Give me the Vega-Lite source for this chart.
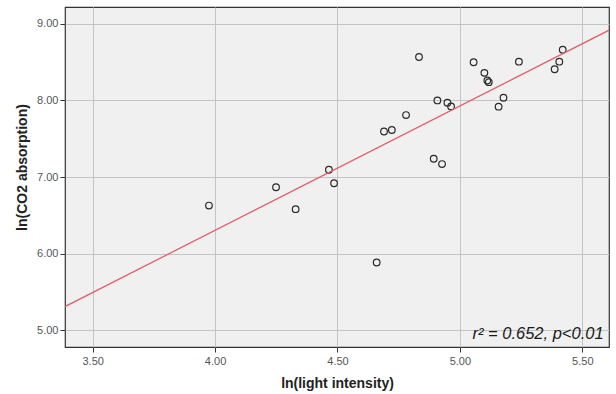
{
  "$schema": "https://vega.github.io/schema/vega-lite/v6.json",
  "width": 544,
  "height": 340,
  "autosize": {"type": "none"},
  "padding": {"left": 65, "top": 7, "right": 7, "bottom": 47},
  "background": "#ffffff",
  "config": {
    "view": {"fill": "#f0f0f0", "stroke": "#333333", "strokeWidth": 1.2},
    "font": "Liberation Sans"
  },
  "datasets": {
    "pts": [
      {"x": 3.975, "y": 6.627}, {"x": 4.249, "y": 6.866}, {"x": 4.329, "y": 6.580},
      {"x": 4.465, "y": 7.095}, {"x": 4.486, "y": 6.918}, {"x": 4.660, "y": 5.883},
      {"x": 4.690, "y": 7.594}, {"x": 4.722, "y": 7.614}, {"x": 4.780, "y": 7.809},
      {"x": 4.833, "y": 8.567}, {"x": 4.893, "y": 7.238}, {"x": 4.908, "y": 8.000},
      {"x": 4.927, "y": 7.169}, {"x": 4.949, "y": 7.970}, {"x": 4.964, "y": 7.922},
      {"x": 5.056, "y": 8.498}, {"x": 5.100, "y": 8.360}, {"x": 5.112, "y": 8.260},
      {"x": 5.118, "y": 8.238}, {"x": 5.158, "y": 7.918}, {"x": 5.178, "y": 8.035},
      {"x": 5.241, "y": 8.506}, {"x": 5.387, "y": 8.407}, {"x": 5.406, "y": 8.506},
      {"x": 5.420, "y": 8.662}
    ],
    "fit": [{"x": 3.387, "y": 5.308}, {"x": 5.609, "y": 8.917}],
    "note": [{"x": 5.587, "y": 4.885, "label": "r² = 0.652, p<0.01"}]
  },
  "layer": [
    {
      "data": {"name": "pts"},
      "mark": {"type": "point", "shape": "circle", "filled": false, "stroke": "#2a2a2a", "strokeWidth": 1.2, "size": 44, "opacity": 1},
      "encoding": {
        "x": {
          "field": "x", "type": "quantitative",
          "scale": {"domain": [3.387, 5.609], "nice": false, "zero": false},
          "axis": {
            "title": "ln(light intensity)", "values": [3.5, 4.0, 4.5, 5.0, 5.5], "format": ".2f",
            "grid": true, "gridColor": "#c4c4c4", "gridWidth": 1, "gridOpacity": 1,
            "domain": false, "ticks": true, "tickColor": "#333333", "tickSize": 5,
            "labelFont": "Liberation Sans", "labelFontSize": 11, "labelColor": "#555555", "labelPadding": 3,
            "titleFont": "Liberation Sans", "titleFontSize": 14, "titleFontWeight": "bold", "titleColor": "#222222", "titlePadding": 10
          }
        },
        "y": {
          "field": "y", "type": "quantitative",
          "scale": {"domain": [4.78, 9.22], "nice": false, "zero": false},
          "axis": {
            "title": "ln(CO2 absorption)", "values": [5, 6, 7, 8, 9], "format": ".2f",
            "grid": true, "gridColor": "#c4c4c4", "gridWidth": 1, "gridOpacity": 1,
            "domain": false, "ticks": true, "tickColor": "#333333", "tickSize": 5,
            "labelFont": "Liberation Sans", "labelFontSize": 11, "labelColor": "#555555", "labelPadding": 2,
            "titleFont": "Liberation Sans", "titleFontSize": 14, "titleFontWeight": "bold", "titleColor": "#222222", "titlePadding": 7,
            "titleY": 160
          }
        }
      }
    },
    {
      "data": {"name": "fit"},
      "mark": {"type": "line", "color": "#e06070", "strokeWidth": 1.3, "clip": true},
      "encoding": {
        "x": {"field": "x", "type": "quantitative"},
        "y": {"field": "y", "type": "quantitative"}
      }
    },
    {
      "data": {"name": "note"},
      "mark": {"type": "text", "align": "right", "baseline": "alphabetic", "font": "Liberation Sans", "fontStyle": "italic", "fontSize": 16.5, "color": "#1a1a1a"},
      "encoding": {
        "x": {"field": "x", "type": "quantitative"},
        "y": {"field": "y", "type": "quantitative"},
        "text": {"field": "label"}
      }
    }
  ]
}
